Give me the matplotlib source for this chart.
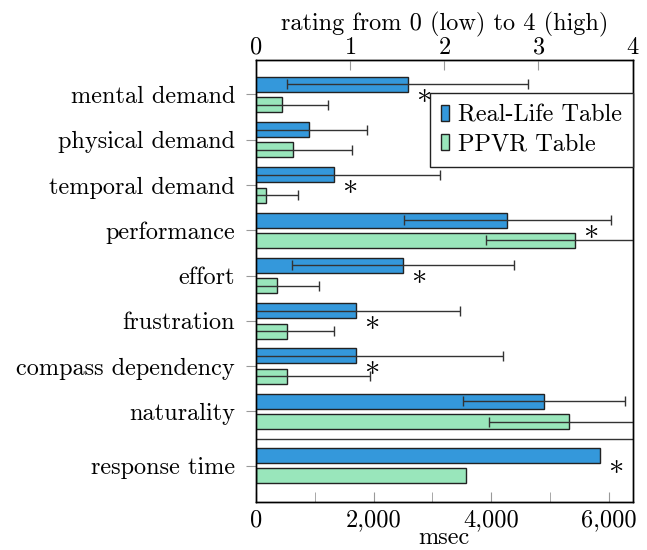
import matplotlib
matplotlib.use("Agg")
import matplotlib.pyplot as plt
from matplotlib.ticker import FuncFormatter, MultipleLocator

plt.rcParams['font.family'] = ['cmr10', 'DejaVu Serif']
plt.rcParams['mathtext.fontset'] = 'cm'
plt.rcParams['axes.formatter.use_mathtext'] = True
plt.rcParams['font.size'] = 17.5

# NASA-TLX style ratings (0..4), mean and std per condition
categories = ['mental demand', 'physical demand', 'temporal demand', 'performance',
              'effort', 'frustration', 'compass dependency', 'naturality']
real_mean = [1.61, 0.56, 0.83, 2.67, 1.56, 1.06, 1.06, 3.06]
real_std = [1.28, 0.62, 1.12, 1.10, 1.18, 1.11, 1.56, 0.86]
ppvr_mean = [0.28, 0.39, 0.11, 3.39, 0.22, 0.33, 0.33, 3.33]
ppvr_std = [0.48, 0.63, 0.34, 0.95, 0.45, 0.50, 0.88, 0.85]
significant = [True, False, True, True, True, True, True, False]

# response time in msec
time_label = 'response time'
real_time = [5840]
ppvr_time = [3570]
time_significant = True

blue = '#3498db'
green = '#99e6bb'
edge = '#222222'

ys = list(range(len(categories)))
y_time = 8.2
off = 0.225
h = 0.33
star_size = 22

fig = plt.figure(figsize=(6.47, 5.5), dpi=100)
ax = fig.add_axes([0.3957, 0.0873, 0.5819, 0.8036])
ax_r = ax.twiny()

b1 = ax_r.barh([y - off for y in ys], real_mean, height=h, color=blue,
               edgecolor=edge, linewidth=1, label='Real-Life Table')
b2 = ax_r.barh([y + off for y in ys], ppvr_mean, height=h, color=green,
               edgecolor=edge, linewidth=1, label='PPVR Table')
ax_r.errorbar(real_mean, [y - off for y in ys], xerr=real_std, fmt='none',
              ecolor='#333333', elinewidth=1, capsize=3.3, capthick=1)
ax_r.errorbar(ppvr_mean, [y + off for y in ys], xerr=ppvr_std, fmt='none',
              ecolor='#333333', elinewidth=1, capsize=3.3, capthick=1)

for i, sig in enumerate(significant):
    if sig:
        ax_r.annotate(r'$\ast$', xy=(max(real_mean[i], ppvr_mean[i]), ys[i]),
                      xytext=(11.5, 0), textcoords='offset points',
                      ha='center', va='center', fontsize=star_size, annotation_clip=False)

ax.barh([y_time - off], real_time, height=h, color=blue, edgecolor=edge, linewidth=1)
ax.barh([y_time + off], ppvr_time, height=h, color=green, edgecolor=edge, linewidth=1)
if time_significant:
    ax.annotate(r'$\ast$', xy=(max(real_time[0], ppvr_time[0]), y_time),
                xytext=(11.5, 0), textcoords='offset points',
                ha='center', va='center', fontsize=star_size, annotation_clip=False)

ax.axhline((ys[-1] + y_time) / 2, color='#333333', linewidth=1)

ax.set_ylim(9.0, -0.76)
ax.set_yticks(ys + [y_time], categories + [time_label])

ax.set_xlim(0, 6400)
ax.xaxis.set_major_locator(MultipleLocator(2000))
ax.xaxis.set_minor_locator(MultipleLocator(1000))
ax.xaxis.set_major_formatter(FuncFormatter(lambda v, p: f'{v:,.0f}'))
ax.set_xlabel('msec', labelpad=-3)

ax_r.set_xlim(0, 4)
ax_r.set_xticks([0, 1, 2, 3, 4])
ax_r.set_xlabel('rating from 0 (low) to 4 (high)', labelpad=4)

ax.tick_params(axis='x', which='both', direction='in', length=7, color='#999999', pad=5)
ax.tick_params(axis='y', direction='out', length=7, color='#999999', pad=8)
ax_r.tick_params(axis='x', direction='in', length=7, color='#999999', pad=1)

for a in (ax, ax_r):
    for s in a.spines.values():
        s.set_color('black')
        s.set_linewidth(1)

leg = ax_r.legend(handles=[b1, b2], loc='upper right', bbox_to_anchor=(1.0, 0.925),
                  borderaxespad=0, handlelength=0.35, handleheight=0.65,
                  handletextpad=0.35, labelspacing=0.3, borderpad=0.45,
                  fancybox=False, edgecolor=edge, framealpha=1)
leg.get_frame().set_linewidth(1)

fig.savefig('out.png', dpi=100)
